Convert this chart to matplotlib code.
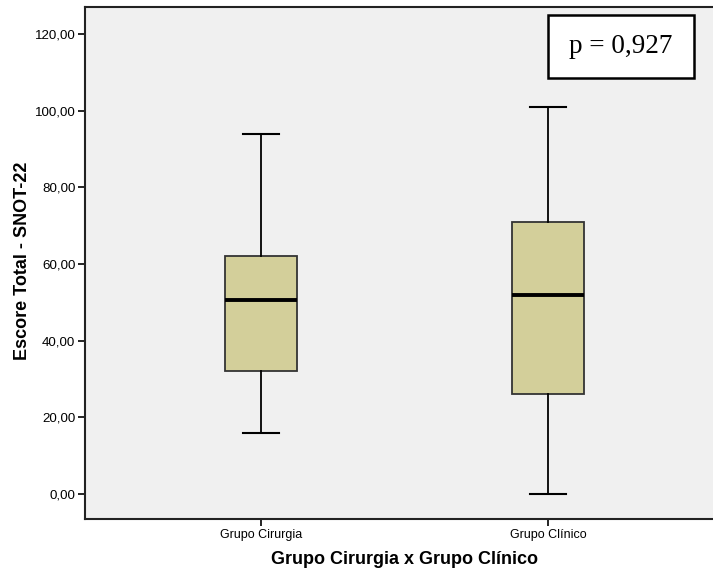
import matplotlib
matplotlib.use("Agg")
import matplotlib.pyplot as plt

categories = ["Grupo Cirurgia", "Grupo Clínico"]
whisker_low = [16.0, 0.0]
q1 = [32.0, 26.0]
median = [50.5, 52.0]
q3 = [62.0, 71.0]
whisker_high = [94.0, 101.0]
yticks = [0, 20, 40, 60, 80, 100, 120]
ytick_labels = ["0,00", "20,00", "40,00", "60,00", "80,00", "100,00", "120,00"]
p_text = "p = 0,927"

W, H = 713, 580
fig = plt.figure(figsize=(W / 100, H / 100), dpi=100)
fig.patch.set_facecolor("white")

# axes: left 85px, right beyond the figure (724px), top 7px, bottom 519px
left, right, top, bottom = 85, 724, 7, 519
ax = fig.add_axes([left / W, 1 - bottom / H, (right - left) / W, (bottom - top) / H])
ax.set_facecolor("#F0F0F0")

stats = []
for i, c in enumerate(categories):
    stats.append(dict(label=c, whislo=whisker_low[i], q1=q1[i], med=median[i],
                      q3=q3[i], whishi=whisker_high[i], fliers=[]))

ax.bxp(stats, positions=[1, 2], widths=0.25, patch_artist=True, showfliers=False,
       boxprops=dict(facecolor="#D3CF9A", edgecolor="#333333", linewidth=1.3),
       medianprops=dict(color="black", linewidth=2.8),
       whiskerprops=dict(color="black", linewidth=1.3),
       capprops=dict(color="black", linewidth=1.5),
       capwidths=0.125)

ax.set_xlim(0.387, 2.613)
ax.set_ylim(-6.5, 127.0)
ax.set_yticks(yticks)
ax.set_yticklabels(ytick_labels, fontsize=9.6, family="Liberation Sans")
ax.set_xticks([1, 2])
ax.set_xticklabels(categories, fontsize=9, family="Liberation Sans")
ax.tick_params(axis="both", length=5, width=1.2, color="black", direction="out", pad=2)

for s in ["left", "bottom", "top"]:
    ax.spines[s].set_linewidth(1.5)
    ax.spines[s].set_color("#222222")
ax.spines["right"].set_visible(False)

ax.set_ylabel("Escore Total - SNOT-22", fontsize=13, fontweight="bold",
              family="Liberation Sans", va="center")
ax.yaxis.set_label_coords((22 - left) / (right - left), (bottom - 261) / (bottom - top))
ax.set_xlabel("Grupo Cirurgia x Grupo Clínico", fontsize=13, fontweight="bold",
              family="Liberation Sans", va="center")
ax.xaxis.set_label_coords((405 - left) / (right - left), (bottom - 560) / (bottom - top))

# p-value box (figure pixel coordinates 548..694 x 15..78)
bx0, bx1, by0, by1 = 548, 694, 15, 78
fig.patches.append(plt.Rectangle((bx0 / W, 1 - by1 / H), (bx1 - bx0) / W, (by1 - by0) / H,
                                 transform=fig.transFigure, facecolor="white",
                                 edgecolor="black", linewidth=1.8, zorder=5))
fig.text((bx0 + bx1) / 2 / W, 1 - (by0 + by1) / 2 / H, p_text, ha="center", va="center",
         fontsize=19.5, family="Liberation Serif", zorder=6)

fig.savefig("out.png", dpi=100)
